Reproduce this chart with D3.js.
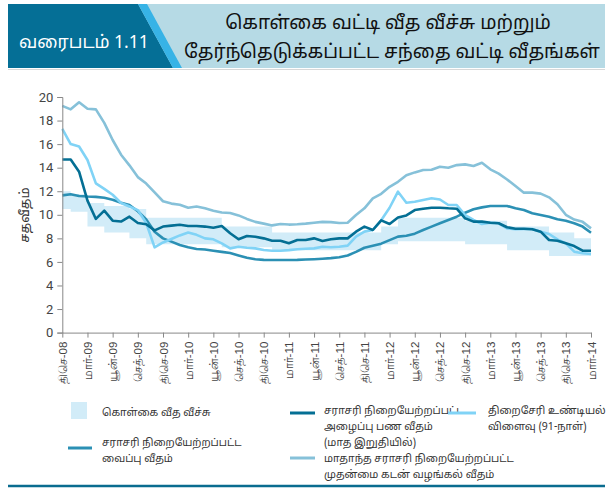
<!DOCTYPE html>
<html>
<head>
<meta charset="utf-8">
<script src="https://cdn.jsdelivr.net/npm/d3@7"></script>
<style>
  html, body { margin: 0; padding: 0; background: #fff; }
  svg { display: block; font-family: "Noto Sans Tamil", "Lohit Tamil", "Noto Sans", "DejaVu Sans", sans-serif; }
</style>
</head>
<body>
<svg id="chart" width="611" height="490"></svg>
<script>
// ---- DATA (monthly, Dec-08 .. Mar-14) ----
const monthIndex = d3.range(64);
const tickMonths = [0,3,6,9,12,15,18,21,24,27,30,33,36,39,42,45,48,51,54,57,60,63];
const tickLabels = ["திசெ-08","மார்-09","யூன்-09","செத்-09","திசெ-09","மார்-10","யூன்-10","செத்-10","திசெ-10","மார்-11","யூன்-11","செத்-11","திசெ-11","மார்-12","யூன்-12","செத்-12","திசெ-12","மார்-13","யூன்-13","செத்-13","திசெ-13","மார்-14"];
const yTicks = [0,2,4,6,8,10,12,14,16,18,20];

// policy corridor: lower (repo) and upper (reverse repo)
const corridorLower = [10.5,10.25,10.25,9.0,9.0,8.5,8.5,8.5,8.0,8.0,
  7.5,7.5,7.5,7.5,7.5,7.5,7.5,7.5,7.5,7.25,7.25,7.25,7.25,7.25,7.25,
  7.0,7.0,7.0,7.0,7.0,7.0,7.0,7.0,7.0,7.0,7.0,7.0,7.0,7.5,7.5,
  7.75,7.75,7.75,7.75,7.75,7.75,7.75,7.75,7.5,7.5,7.5,7.5,7.5,
  7.0,7.0,7.0,7.0,7.0,6.5,6.5,6.5,6.5,6.5,6.5];
const corridorUpper = [12.0,11.75,11.75,11.0,11.0,10.75,10.75,10.75,10.5,10.5,
  9.75,9.75,9.75,9.75,9.75,9.75,9.75,9.75,9.75,9.0,9.0,9.0,9.0,9.0,9.0,
  8.5,8.5,8.5,8.5,8.5,8.5,8.5,8.5,8.5,8.5,8.5,8.5,8.5,9.0,9.0,
  9.75,9.75,9.75,9.75,9.75,9.75,9.75,9.75,9.5,9.5,9.5,9.5,9.5,
  9.0,9.0,9.0,9.0,9.0,8.5,8.5,8.5,8.0,8.0,8.0];

// average weighted prime lending rate (monthly)
const awplr = [19.25,18.95,19.55,19.0,18.95,17.8,16.35,15.1,14.2,13.2,
  12.65,11.9,11.15,10.95,10.85,10.6,10.7,10.55,10.35,10.2,
  10.15,9.95,9.65,9.4,9.25,9.1,9.22,9.17,9.2,9.25,
  9.33,9.4,9.38,9.3,9.33,9.98,10.55,11.4,11.78,12.38,
  12.8,13.35,13.6,13.8,13.82,14.08,14.0,14.22,14.28,14.15,
  14.42,13.86,13.5,13.0,12.44,11.88,11.88,11.8,11.48,10.9,
  10.0,9.6,9.4,8.85];

// treasury bill yield (91-day)
const tbill = [17.3,16.0,15.8,14.65,12.67,12.2,11.7,11.0,10.7,10.4,
  9.3,7.24,7.65,7.95,8.25,8.5,8.3,8.0,7.92,7.58,
  7.15,7.29,7.2,7.15,7.01,6.95,6.95,7.0,7.07,7.12,
  7.15,7.29,7.24,7.29,7.38,8.14,8.57,8.71,9.53,10.6,
  11.96,11.03,11.11,11.26,11.4,11.3,10.83,10.83,9.98,9.56,
  9.22,9.33,9.28,8.85,8.77,8.8,8.8,8.57,8.37,7.92,
  7.58,6.87,6.73,6.67];

// average weighted call money rate (end of month)
const callMoney = [14.7,14.7,13.66,11.2,9.65,10.35,9.5,9.43,9.84,9.3,
  9.2,8.68,9.0,9.08,9.15,9.05,9.05,9.0,8.9,9.05,
  8.43,7.92,8.2,8.14,8.0,7.8,7.8,7.58,7.86,7.86,
  8.0,7.78,7.92,8.0,8.0,8.57,9.0,8.71,9.53,9.22,
  9.77,9.95,10.4,10.52,10.6,10.6,10.55,10.52,9.7,9.42,
  9.42,9.33,9.28,8.94,8.82,8.82,8.77,8.57,7.86,7.8,
  7.58,7.35,6.95,6.95];

// average weighted deposit rate
const awdr = [11.65,11.75,11.6,11.55,11.52,11.45,11.28,11.03,10.83,10.3,
  9.6,8.57,8.0,7.72,7.44,7.24,7.1,7.05,6.95,6.85,
  6.75,6.55,6.35,6.22,6.17,6.16,6.16,6.16,6.17,6.2,
  6.23,6.27,6.32,6.4,6.55,6.85,7.2,7.37,7.55,7.85,
  8.15,8.22,8.4,8.71,9.0,9.28,9.56,9.84,10.18,10.47,
  10.63,10.75,10.75,10.75,10.55,10.4,10.13,9.98,9.84,9.62,
  9.5,9.28,9.0,8.48];

const colors = {
  corridor: "#d2ecf8",
  awplr: "#86c1d9",
  tbill: "#80d3f6",
  call: "#046f94",
  awdr: "#2b90b4"
};

// ---- DRAW ----
const svg = d3.select("#chart");

// header
const hdr = svg.append("g");
hdr.append("rect").attr("x", 8).attr("y", 4).attr("width", 597).attr("height", 64).attr("fill", "#b6dae5");
hdr.append("path").attr("d", "M8,4 L138,4 L173,68 L8,68 Z").attr("fill", "#056f96");
hdr.append("path").attr("d", "M138,4 L147,4 L182,68 L173,68 Z").attr("fill", "#37b3e6");
hdr.append("line").attr("x1", 8).attr("x2", 605).attr("y1", 69.5).attr("y2", 69.5).attr("stroke", "#d8d8d8").attr("stroke-width", 1);
hdr.append("text").attr("x", 19).attr("y", 48).attr("fill", "#fff").attr("font-size", 17.5).text("வரைபடம் 1.11");
hdr.append("text").attr("x", 388).attr("y", 29).attr("text-anchor", "middle").attr("fill", "#111").attr("font-size", 19).text("கொள்கை வட்டி வீத வீச்சு மற்றும்");
hdr.append("text").attr("x", 392).attr("y", 58).attr("text-anchor", "middle").attr("fill", "#111").attr("font-size", 19).text("தேர்ந்தெடுக்கப்பட்ட சந்தை வட்டி வீதங்கள்");

const x = d3.scaleLinear().domain([0, 63]).range([62.3, 591]);
const y = d3.scaleLinear().domain([0, 20]).range([332.6, 97]);

// corridor band
const band = d3.area()
  .x(i => x(i))
  .y0(i => y(corridorLower[i]))
  .y1(i => y(corridorUpper[i]))
  .curve(d3.curveStepAfter);
svg.append("path").datum(monthIndex).attr("d", band).attr("fill", colors.corridor);

// lines
const series = [
  { data: awdr, color: colors.awdr },
  { data: awplr, color: colors.awplr },
  { data: tbill, color: colors.tbill },
  { data: callMoney, color: colors.call }
];
const line = arr => d3.line().x(i => x(i)).y(i => y(arr[i]))(monthIndex);
series.forEach(s => {
  svg.append("path").attr("d", line(s.data)).attr("fill", "none")
    .attr("stroke", s.color).attr("stroke-width", 2.6).attr("stroke-linejoin", "round");
});

// axes
const yAxis = d3.axisLeft(y).tickValues(yTicks).tickSize(5).tickPadding(4).tickFormat(d3.format("d"));
const gy = svg.append("g").attr("transform", "translate(62.3,0)").call(yAxis);
gy.select(".domain").attr("stroke", "#888");
gy.selectAll(".tick line").attr("stroke", "#888");
gy.selectAll(".tick text").attr("font-size", 13).attr("fill", "#444").attr("font-family", "Roboto, 'Open Sans', sans-serif");

const xAxis = d3.axisBottom(x).tickValues(tickMonths).tickSize(5).tickSizeOuter(0).tickFormat((d, i) => tickLabels[i]);
const gx = svg.append("g").attr("transform", "translate(0,332.6)").call(xAxis);
gx.select(".domain").attr("stroke", "#888");
gx.selectAll(".tick line").attr("stroke", "#888");
gx.selectAll(".tick text").attr("font-size", 11.5).attr("fill", "#444")
  .attr("transform", "rotate(-90)").attr("text-anchor", "end")
  .attr("x", -9).attr("y", 0).attr("dy", "0.35em");

// y label
svg.append("text").attr("transform", "translate(29,215) rotate(-90)").attr("text-anchor", "middle")
  .attr("font-size", 13).attr("fill", "#333").text("சதவீதம்");

// legend
const lg = svg.append("g").attr("font-size", 10.5).attr("fill", "#333");
lg.append("rect").attr("x", 71).attr("y", 402).attr("width", 16).attr("height", 17).attr("fill", colors.corridor);
lg.append("text").attr("x", 102).attr("y", 416).text("கொள்கை வீத வீச்சு");

lg.append("line").attr("x1", 68).attr("x2", 92).attr("y1", 448).attr("y2", 448).attr("stroke", colors.awdr).attr("stroke-width", 3);
lg.append("text").attr("x", 102).attr("y", 446).text("சராசரி நிறையேற்றப்பட்ட");
lg.append("text").attr("x", 102).attr("y", 462).text("வைப்பு வீதம்");

lg.append("line").attr("x1", 290).attr("x2", 315).attr("y1", 413).attr("y2", 413).attr("stroke", colors.call).attr("stroke-width", 3);
lg.append("text").attr("x", 324).attr("y", 414).text("சராசரி நிறையேற்றப்பட்ட");
lg.append("text").attr("x", 324).attr("y", 430).text("அழைப்பு பண வீதம்");
lg.append("text").attr("x", 324).attr("y", 446).text("(மாத இறுதியில்)");

lg.append("line").attr("x1", 448).attr("x2", 476).attr("y1", 413).attr("y2", 413).attr("stroke", colors.tbill).attr("stroke-width", 3);
lg.append("text").attr("x", 488).attr("y", 414).text("திறைசேரி உண்டியல்");
lg.append("text").attr("x", 488).attr("y", 430).text("விளைவு (91-நாள்)");

lg.append("line").attr("x1", 290).attr("x2", 315).attr("y1", 458).attr("y2", 458).attr("stroke", colors.awplr).attr("stroke-width", 3);
lg.append("text").attr("x", 324).attr("y", 462).text("மாதாந்த சராசரி நிறையேற்றப்பட்ட");
lg.append("text").attr("x", 324).attr("y", 478).text("முதன்மை கடன் வழங்கல் வீதம்");

// bottom rule
svg.append("line").attr("x1", 8).attr("x2", 605).attr("y1", 486).attr("y2", 486).attr("stroke", "#0a6c8f").attr("stroke-width", 2.5);
</script>
</body>
</html>
